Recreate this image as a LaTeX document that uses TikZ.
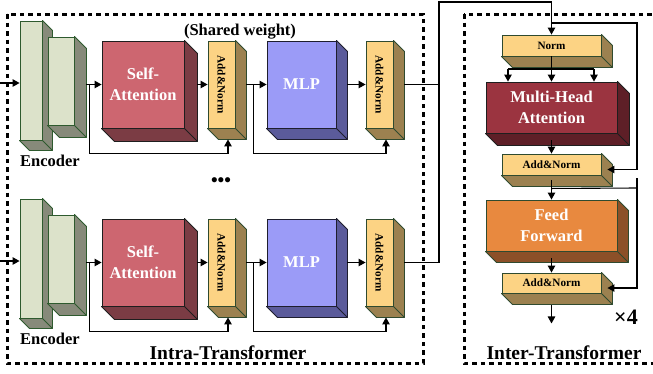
\documentclass[tikz,border=0pt]{standalone}
\usepackage{fontspec}
\setmainfont{Liberation Serif}
\usetikzlibrary{arrows.meta,calc}
\definecolor{encF}{HTML}{DCE2CA}\definecolor{encS}{HTML}{878A7A}\definecolor{encL}{HTML}{2E5A2E}
\definecolor{saF}{HTML}{CD6670}\definecolor{saS}{HTML}{7B3C44}\definecolor{saL}{HTML}{1E1E1E}
\definecolor{anF}{HTML}{FCD384}\definecolor{anS}{HTML}{9C8150}\definecolor{anL}{HTML}{2F4A2F}
\definecolor{mlpF}{HTML}{9B9BF7}\definecolor{mlpS}{HTML}{5B5B9B}\definecolor{mlpL}{HTML}{1E1E2E}
\definecolor{mhaF}{HTML}{9B3440}\definecolor{mhaS}{HTML}{5E1F27}\definecolor{mhaL}{HTML}{1E1E1E}
\definecolor{ffF}{HTML}{E8893F}\definecolor{ffS}{HTML}{8C5028}\definecolor{ffL}{HTML}{2F4A2F}
\newcommand\myextrude[4]{%
  \filldraw[fill=#3,draw=#4,line width=0.9pt,line join=round]
    (#1.north east) -- ++(#2,#2) -- ($(#1.south east)+(#2,#2)$) -- ($(#1.south west)+(#2,#2)$)
    -- (#1.south west) -- (#1.south east) -- cycle;
  \draw[draw=#4,line width=0.9pt] (#1.south east) -- ++(#2,#2);}
\tikzset{
  face/.style={draw,line width=0.9pt,inner sep=0pt,align=center,text=white,
    font=\bfseries\fontsize{16.5}{20.5}\selectfont},
  enc/.style={face,fill=encF,draw=encL},
  sab/.style={face,fill=saF,draw=saL},
  anb/.style={face,fill=anF,draw=anL,text=black,font=\bfseries\fontsize{11.2}{13}\selectfont},
  mlpb/.style={face,fill=mlpF,draw=mlpL},
  mhab/.style={face,fill=mhaF,draw=mhaL},
  ffb/.style={face,fill=ffF,draw=ffL},
  vlabel/.style={rotate=-90,inner sep=0pt,font=\bfseries\fontsize{11.2}{13}\selectfont},
  arr/.style={line width=1.1pt,-{Triangle[length=7pt,width=7.5pt]}},
  ln/.style={line width=1.1pt},
  dashbox/.style={line width=3pt,dash pattern=on 4.5pt off 4pt},
  lbl/.style={inner sep=0pt,anchor=base,font=\bfseries\fontsize{16.5}{20}\selectfont},
  biglbl/.style={inner sep=0pt,anchor=base,font=\bfseries\fontsize{19.5}{23}\selectfont}
}
\begin{document}
\begin{tikzpicture}[x=1pt,y=-1pt]
\useasboundingbox (0,0) rectangle (653,373);
\clip (0,0) rectangle (653,373);
\fill[white] (0,0) rectangle (653,373);
% dashed frames
\draw[dashbox] (7,14) rectangle (423,363);
\draw[dashbox] (464,14) rectangle (672,363);
% two intra rows
\foreach \r/\o in {1/0,2/178}{
  \node[enc,minimum width=22pt,minimum height=119pt] (encA\r) at (31,80.5+\o) {};
  \myextrude{encA\r}{10}{encS}{encL}
  \node[enc,minimum width=26pt,minimum height=88pt] (encB\r) at (61,81+\o) {};
  \myextrude{encB\r}{12}{encS}{encL}
  \node[lbl] (encL\r) at (50,166+\o) {Encoder};
  \node[sab,minimum width=82pt,minimum height=87pt] (sa\r) at (143,84.5+\o) {Self-\\Attention};
  \myextrude{sa\r}{13}{saS}{saL}
  \node[anb,minimum width=27pt,minimum height=87pt] (an1\r) at (221.5,84.5+\o) {};
  \myextrude{an1\r}{11}{anS}{anL}
  \node[vlabel] (an1t\r) at (an1\r) {Add\&Norm};
  \node[mlpb,minimum width=69pt,minimum height=87pt] (mlp\r) at (301.5,84.5+\o) {MLP};
  \myextrude{mlp\r}{11}{mlpS}{mlpL}
  \node[anb,minimum width=27pt,minimum height=87pt] (an2\r) at (379.5,84.5+\o) {};
  \myextrude{an2\r}{11}{anS}{anL}
  \node[vlabel] (an2t\r) at (an2\r) {Add\&Norm};
  % connectors
  \coordinate (in\r) at (0,83+\o);
  \draw[arr] (in\r) -- (in\r -| encA\r.west);
  \coordinate (encBx\r) at ($(encB\r.east)+(12,0)$);
  \draw[arr] (sa\r.west -| encBx\r) -- (sa\r.west);
  \draw[arr] ($(sa\r.east)+(13,0)$) -- (an1\r.west);
  \draw[arr] ($(sa\r.west)+(-12,0)$) |- ($(an1\r.south)+(6.5,25)$) -- ($(an1\r.south)+(6.5,11)$);
  \draw[arr] ($(an1\r.east)+(11,0)$) -- (mlp\r.west);
  \draw[arr] ($(mlp\r.west)+(-13,0)$) |- ($(an2\r.south)+(6.5,25)$) -- ($(an2\r.south)+(6.5,11)$);
  \draw[arr] ($(mlp\r.east)+(11,0)$) -- (an2\r.west);
  \coordinate (j\r) at (439,84.5+\o);
  \draw[ln] ($(an2\r.east)+(11,0)$) -- (j\r);
}
\node[lbl] (shared) at (240,35) {(Shared weight)};
\node[inner sep=0pt,font=\bfseries\fontsize{19}{20}\selectfont] (dots) at (221,182) {•••};
\node[biglbl] (intra) at (228,359) {Intra-Transformer};
% inter column
\node[anb,minimum width=99pt,minimum height=21pt] (norm) at (551.5,45.5) {Norm};
\myextrude{norm}{11}{anS}{anL}
\node[mhab,minimum width=131pt,minimum height=51pt] (mha) at (551.5,107.5) {Multi-Head\\Attention};
\myextrude{mha}{12}{mhaS}{mhaL}
\node[anb,minimum width=99pt,minimum height=21pt] (anI1) at (551.5,164.5) {Add\&Norm};
\myextrude{anI1}{11}{anS}{anL}
\node[ffb,minimum width=131pt,minimum height=51pt] (ff) at (551.5,225.5) {Feed\\Forward};
\myextrude{ff}{11}{ffS}{ffL}
\node[anb,minimum width=99pt,minimum height=20pt] (anI2) at (551.5,283) {Add\&Norm};
\myextrude{anI2}{11}{anS}{anL}
\node[biglbl] (inter) at (564,359) {Inter-Transformer};
\node[inner sep=0pt,anchor=base,font=\bfseries\fontsize{22}{24}\selectfont] (times) at (626,324) {×4};
% inter connectors
\coordinate (top) at (439,2);
\draw[arr] (j2) -- (j1) -- (top) -| (norm.north);
\coordinate (br1) at (551.5,23);
\coordinate (rr1) at (637,23);
\draw[arr] (br1) -- (rr1) |- ($(anI1.east)+(6,5)$);
\coordinate (split) at ($(norm.south)+(0,13)$);
\coordinate (sL) at (508,69);
\coordinate (sR) at (594,69);
\draw[ln] (norm.south) -- (split);
\draw[ln] (sL) -- (sR);
\draw[arr] (sL) -- (sL |- mha.north);
\draw[arr] (split) -- (mha.north);
\draw[arr] (sR) -- (sR |- mha.north);
\draw[arr] ($(mha.south)+(0,7)$) -- (anI1.north);
\draw[arr] ($(anI1.south)+(0,5)$) -- (ff.north);
\coordinate (br2) at ($(anI1.south)+(0,13)$);
\coordinate (rr2) at (637,188);
\coordinate (rr2t) at (637,178);
\draw[ln] (br2) -- (rr2);
\draw[arr] (rr2t) -- (rr2) |- ($(anI2.east)+(6,5)$);
\draw[arr] ($(ff.south)+(0,7)$) -- (anI2.north);
\coordinate (outs) at ($(anI2.south)+(0,12)$);
\coordinate (oute) at ($(anI2.south)+(0,30)$);
\draw[arr] (outs) -- (oute);
\end{tikzpicture}
\end{document}
